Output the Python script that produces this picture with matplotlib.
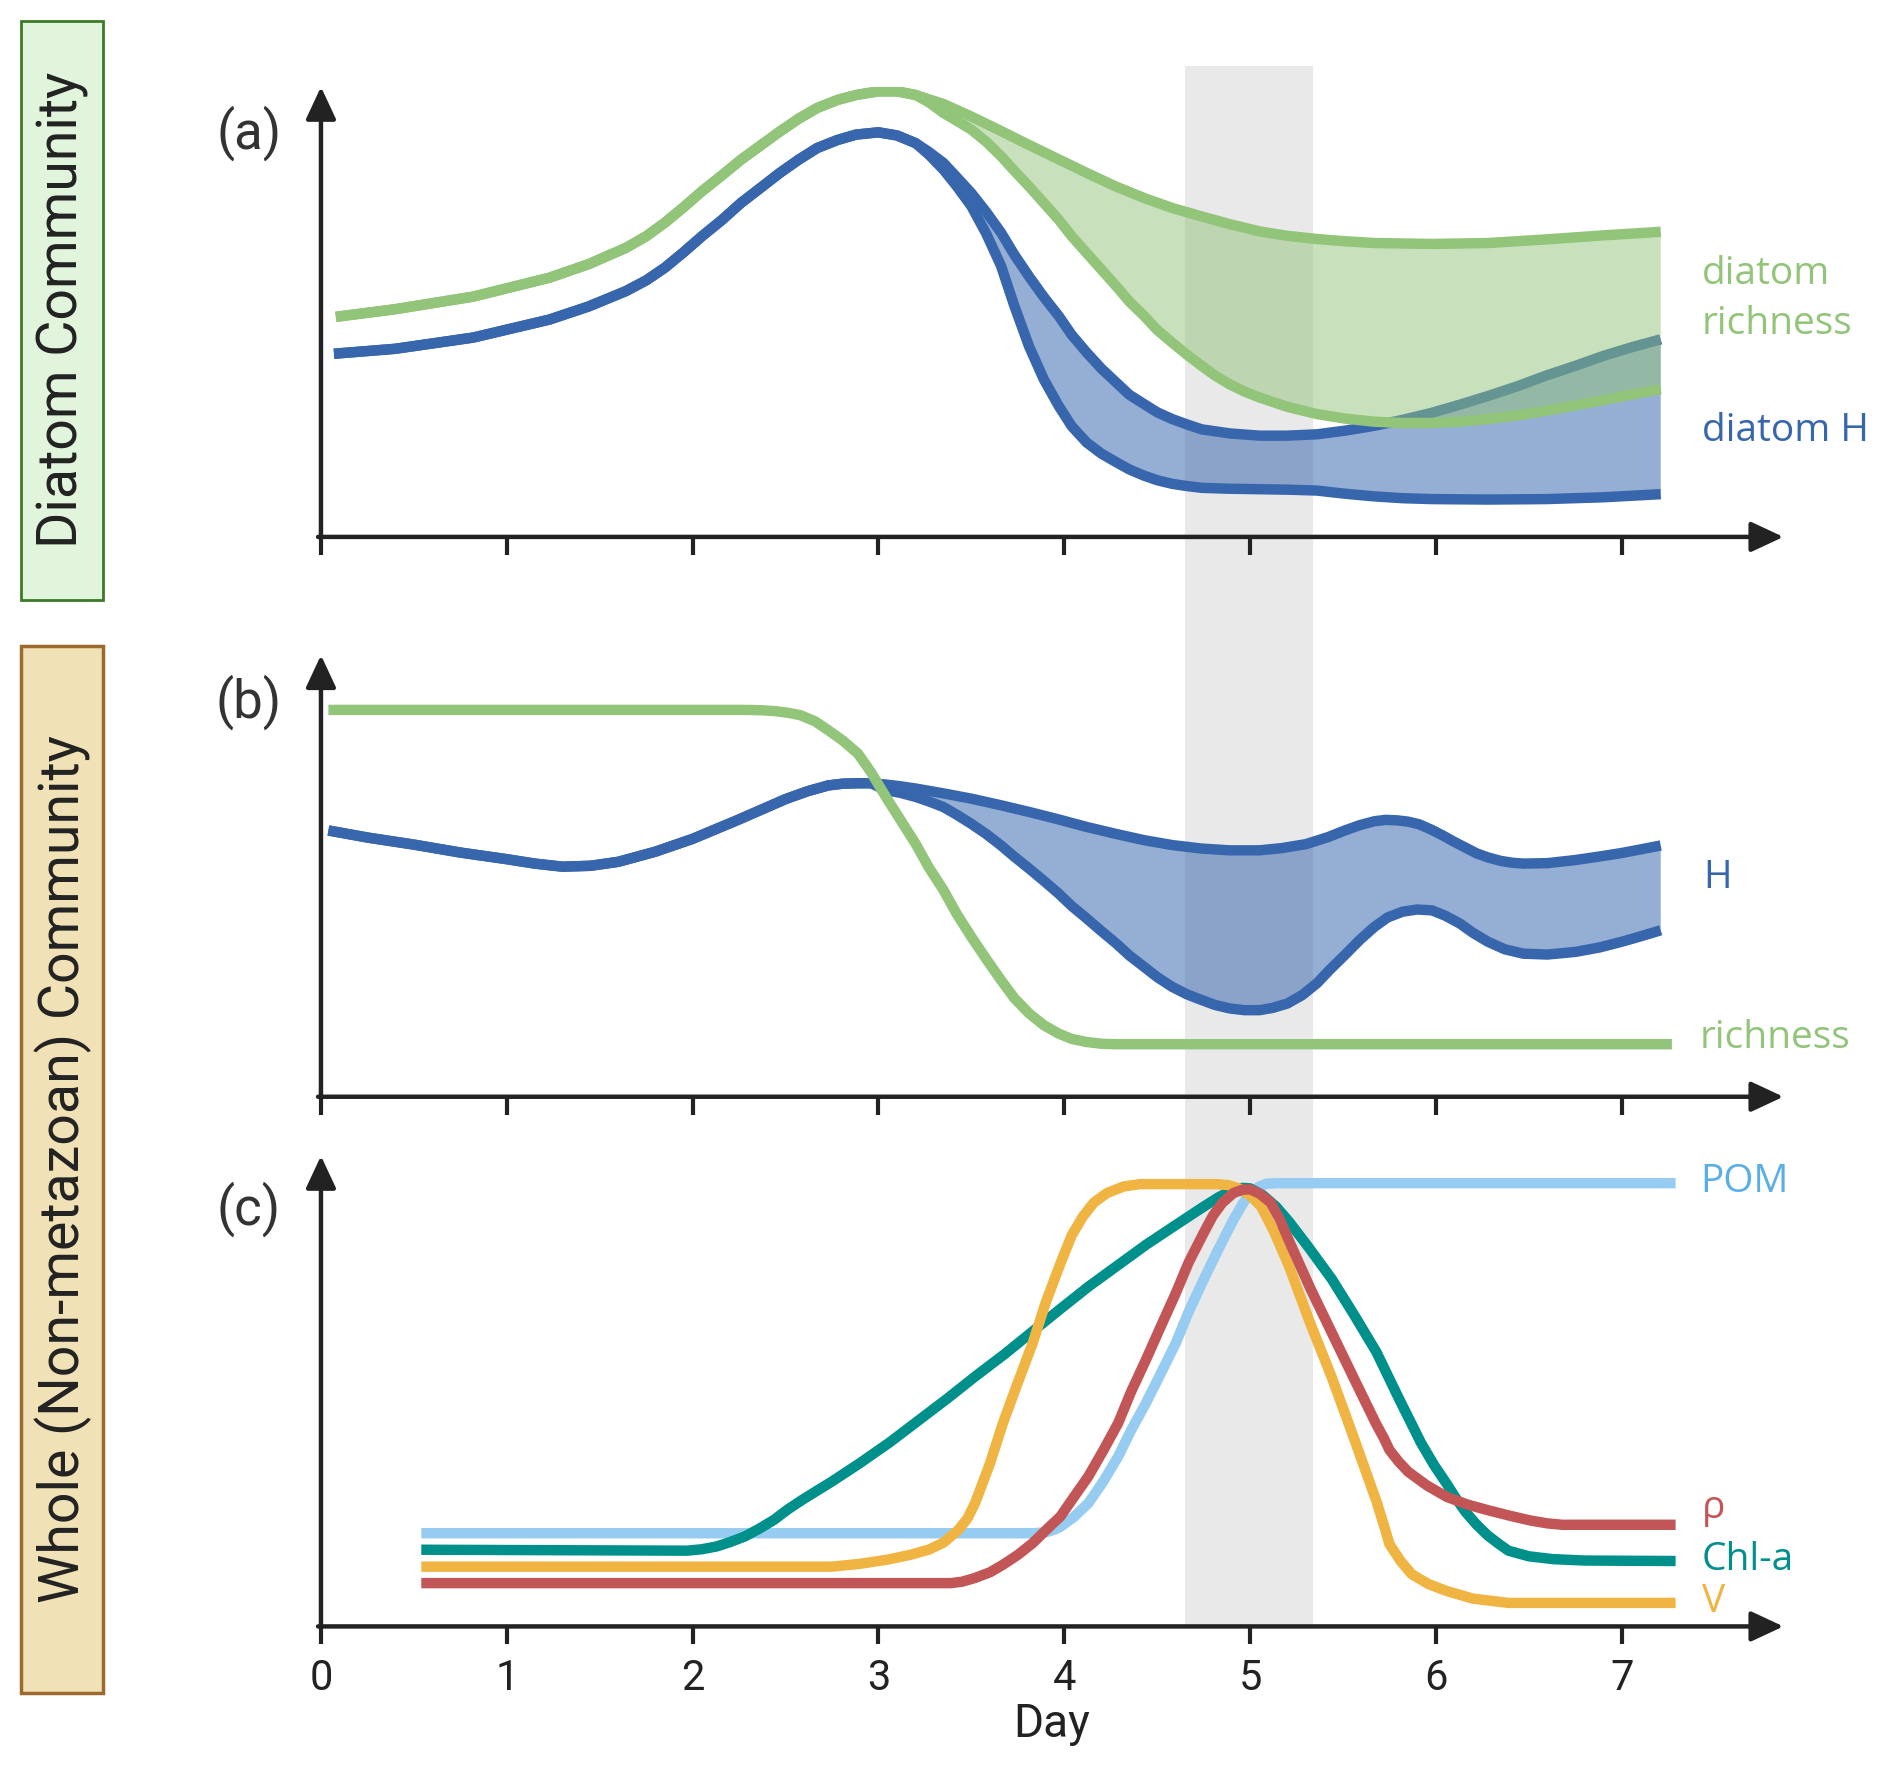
import matplotlib
matplotlib.use('Agg')
import matplotlib.pyplot as plt
from matplotlib.patches import Rectangle
import numpy as np

# ---- panel (a): diatom community ----
a_rich_hi_day = [0.08, 0.40, 0.82, 1.23, 1.44, 1.64, 1.75, 1.85, 1.95, 2.05, 2.16, 2.26, 2.37,
                 2.47, 2.57, 2.67, 2.78, 2.88, 3.00, 3.10, 3.20, 3.35, 3.50, 3.65, 3.81, 3.97,
                 4.12, 4.27, 4.43, 4.58, 4.74, 4.90, 5.05, 5.20, 5.36, 5.51, 5.67, 5.98, 6.28,
                 6.59, 6.90, 7.21]
a_rich_hi = [48.9, 50.6, 53.4, 57.6, 60.6, 64.2, 66.8, 69.8, 73.2, 76.8, 80.4, 83.8, 87.1,
             90.1, 92.9, 95.3, 97.1, 98.2, 99.0, 99.0, 98.2, 96.2, 93.4, 90.4, 87.1, 83.9,
             80.9, 78.0, 75.3, 73.1, 71.2, 69.4, 67.9, 66.9, 66.2, 65.7, 65.3, 65.1, 65.3,
             66.1, 67.0, 67.8]
a_rich_lo_day = [0.08, 0.40, 0.82, 1.23, 1.44, 1.64, 1.75, 1.85, 1.95, 2.05, 2.16, 2.26, 2.37,
                 2.47, 2.57, 2.67, 2.78, 2.88, 3.00, 3.10, 3.20, 3.27, 3.35, 3.42, 3.50, 3.58,
                 3.66, 3.73, 3.81, 3.89, 3.97, 4.04, 4.12, 4.20, 4.28, 4.35, 4.43, 4.50, 4.58,
                 4.66, 4.74, 4.81, 4.89, 4.97, 5.05, 5.20, 5.36, 5.51, 5.67, 5.82, 5.98, 6.13,
                 6.28, 6.44, 6.59, 6.75, 6.90, 7.05, 7.21]
a_rich_lo = [48.9, 50.6, 53.4, 57.6, 60.6, 64.2, 66.8, 69.8, 73.2, 76.8, 80.4, 83.8, 87.1,
             90.1, 92.9, 95.3, 97.1, 98.2, 99.0, 99.0, 98.2, 96.6, 94.2, 92.5, 90.5, 87.8,
             84.6, 81.4, 77.9, 74.2, 70.5, 66.8, 63.1, 59.4, 55.7, 52.3, 49.1, 46.0, 43.2,
             40.5, 38.0, 35.9, 33.9, 32.3, 31.0, 28.9, 27.3, 26.3, 25.6, 25.3, 25.3, 25.6,
             26.2, 27.0, 28.0, 29.2, 30.4, 31.6, 32.8]
a_h_hi_day = [0.07, 0.40, 0.82, 1.23, 1.44, 1.64, 1.75, 1.85, 1.95, 2.05, 2.16, 2.26, 2.37,
              2.47, 2.57, 2.67, 2.78, 2.88, 3.00, 3.10, 3.20, 3.27, 3.35, 3.42, 3.50, 3.58,
              3.66, 3.73, 3.81, 3.89, 3.97, 4.04, 4.12, 4.20, 4.28, 4.35, 4.43, 4.50, 4.58,
              4.66, 4.74, 4.89, 5.05, 5.20, 5.36, 5.51, 5.67, 5.82, 5.98, 6.13, 6.28, 6.44,
              6.59, 6.75, 6.90, 7.05, 7.21]
a_h_hi = [40.7, 41.8, 44.3, 48.3, 51.2, 54.6, 57.0, 59.8, 63.2, 66.8, 70.5, 74.2, 77.7,
          80.9, 83.8, 86.4, 88.2, 89.4, 89.9, 89.2, 87.5, 85.6, 83.1, 80.0, 76.4, 72.2,
          67.6, 62.8, 57.9, 53.3, 49.1, 44.9, 41.0, 37.4, 34.3, 31.6, 29.5, 27.7, 26.2,
          25.0, 23.9, 23.0, 22.5, 22.5, 22.8, 23.6, 24.7, 26.0, 27.6, 29.4, 31.3, 33.5,
          35.8, 38.0, 40.2, 42.1, 43.9]
a_h_lo_day = [0.07, 0.40, 0.82, 1.23, 1.44, 1.64, 1.75, 1.85, 1.95, 2.05, 2.16, 2.26, 2.37,
              2.47, 2.57, 2.67, 2.78, 2.88, 3.00, 3.10, 3.20, 3.27, 3.35, 3.42, 3.50, 3.58,
              3.66, 3.73, 3.81, 3.89, 3.97, 4.04, 4.12, 4.20, 4.28, 4.35, 4.43, 4.50, 4.58,
              4.66, 4.74, 4.89, 5.05, 5.20, 5.36, 5.51, 5.67, 5.82, 5.98, 6.28, 6.59, 6.90,
              7.21]
a_h_lo = [40.7, 41.8, 44.3, 48.3, 51.2, 54.6, 57.0, 59.8, 63.2, 66.8, 70.5, 74.2, 77.7,
          80.9, 83.8, 86.4, 88.2, 89.4, 89.9, 89.2, 87.5, 85.0, 81.6, 78.0, 73.5, 67.4,
          60.2, 51.5, 42.4, 35.0, 29.1, 24.6, 21.0, 18.5, 16.6, 15.0, 13.6, 12.6, 11.8,
          11.3, 10.9, 10.7, 10.6, 10.5, 10.3, 9.6, 9.0, 8.6, 8.4, 8.3, 8.4, 8.8,
          9.5]

# ---- panel (b): whole community ----
b_rich_day = [0.04, 2.30, 2.38, 2.45, 2.52, 2.58, 2.66, 2.73, 2.81, 2.89, 2.96, 3.04, 3.12,
              3.20, 3.27, 3.35, 3.42, 3.50, 3.58, 3.66, 3.73, 3.81, 3.89, 3.97, 4.04, 4.12,
              4.20, 4.28, 7.27]
b_rich = [87.6, 87.6, 87.5, 87.3, 86.9, 86.4, 85.0, 83.0, 80.6, 77.7, 73.5, 67.9, 62.6,
          57.3, 52.0, 46.8, 41.5, 36.2, 31.2, 26.4, 22.4, 18.9, 16.2, 14.3, 13.1, 12.4,
          12.0, 11.9, 11.9]
b_h_hi_day = [0.04, 0.25, 0.50, 0.75, 1.00, 1.15, 1.30, 1.45, 1.60, 1.80, 2.00, 2.25, 2.50,
              2.62, 2.73, 2.81, 2.89, 2.96, 3.04, 3.12, 3.20, 3.35, 3.50, 3.66, 3.81, 3.97,
              4.12, 4.28, 4.43, 4.58, 4.74, 4.89, 5.05, 5.17, 5.30, 5.42, 5.51, 5.59, 5.67,
              5.73, 5.79, 5.85, 5.91, 5.98, 6.04, 6.10, 6.16, 6.22, 6.28, 6.35, 6.41, 6.47,
              6.60, 6.75, 6.88, 7.00, 7.10, 7.21]
b_h_hi = [60.3, 58.7, 57.1, 55.3, 53.8, 52.8, 52.1, 52.3, 53.2, 55.5, 58.4, 62.8, 67.4,
          69.2, 70.5, 70.9, 71.0, 71.0, 70.7, 70.3, 69.8, 68.7, 67.5, 66.0, 64.5, 62.8,
          61.1, 59.5, 58.1, 57.0, 56.2, 55.8, 55.8, 56.3, 57.2, 58.8, 60.3, 61.5, 62.4,
          62.7, 62.6, 62.3, 61.7, 60.4, 59.1, 57.7, 56.4, 55.1, 54.2, 53.4, 53.0, 52.8,
          52.9, 53.6, 54.4, 55.2, 56.0, 56.9]
b_h_lo_day = [0.04, 0.25, 0.50, 0.75, 1.00, 1.15, 1.30, 1.45, 1.60, 1.80, 2.00, 2.25, 2.50,
              2.62, 2.73, 2.81, 2.89, 2.96, 3.04, 3.12, 3.20, 3.27, 3.35, 3.42, 3.50, 3.58,
              3.66, 3.73, 3.81, 3.89, 3.97, 4.04, 4.12, 4.20, 4.28, 4.35, 4.43, 4.50, 4.58,
              4.66, 4.74, 4.81, 4.89, 4.97, 5.05, 5.12, 5.20, 5.28, 5.36, 5.43, 5.51, 5.59,
              5.67, 5.74, 5.82, 5.90, 5.98, 6.05, 6.13, 6.20, 6.28, 6.37, 6.47, 6.60, 6.75,
              6.88, 7.00, 7.10, 7.21]
b_h_lo = [60.3, 58.7, 57.1, 55.3, 53.8, 52.8, 52.1, 52.3, 53.2, 55.5, 58.4, 62.8, 67.4,
          69.2, 70.5, 70.9, 71.0, 71.0, 69.4, 68.8, 67.9, 66.9, 65.6, 63.9, 61.8, 59.5,
          56.9, 54.4, 51.7, 48.9, 46.0, 43.2, 40.4, 37.5, 34.7, 32.0, 29.4, 27.1, 24.9,
          23.2, 21.9, 20.8, 20.0, 19.6, 19.6, 20.1, 21.1, 23.0, 25.7, 28.8, 32.1, 35.5,
          38.5, 40.6, 41.9, 42.4, 42.2, 41.0, 39.2, 37.1, 35.1, 33.4, 32.4, 32.2, 32.8,
          33.8, 35.1, 36.3, 37.7]

# ---- panel (c): bulk measurements ----
pom_day = [0.54, 3.83, 3.90, 3.95, 3.98, 4.05, 4.13, 4.21, 4.29, 4.36, 4.44, 4.52, 4.60,
           4.67, 4.75, 4.83, 4.91, 4.96, 5.00, 5.05, 5.09, 5.15, 7.29]
pom = [19.8, 19.8, 20.0, 20.6, 21.2, 23.2, 26.2, 30.8, 36.1, 41.7, 47.5, 53.8, 60.2,
       66.9, 73.7, 80.2, 86.4, 89.8, 92.1, 93.5, 94.1, 94.2, 94.2]
chl_day = [0.54, 1.97, 2.05, 2.13, 2.20, 2.28, 2.36, 2.44, 2.51, 2.59, 2.75, 2.90, 3.06,
           3.21, 3.37, 3.52, 3.68, 3.83, 3.98, 4.13, 4.29, 4.44, 4.60, 4.75, 4.83, 4.91,
           4.96, 5.00, 5.07, 5.14, 5.21, 5.32, 5.44, 5.56, 5.68, 5.80, 5.92, 5.99, 6.06,
           6.11, 6.16, 6.22, 6.28, 6.34, 6.39, 6.50, 6.63, 6.80, 7.29]
chl = [16.3, 16.1, 16.4, 17.0, 17.9, 19.1, 20.8, 22.7, 24.8, 26.9, 30.8, 34.7, 39.1,
       43.6, 48.4, 53.1, 57.9, 62.7, 67.5, 72.2, 76.8, 81.1, 85.3, 89.2, 91.2, 92.8,
       93.2, 93.1, 91.6, 89.2, 86.0, 80.3, 73.8, 66.2, 58.3, 48.5, 39.0, 34.3, 30.2,
       27.1, 24.3, 21.6, 19.3, 17.5, 16.1, 14.9, 14.3, 14.0, 13.9]
rho_day = [0.54, 3.39, 3.45, 3.52, 3.60, 3.67, 3.75, 3.83, 3.90, 3.98, 4.05, 4.13, 4.21,
           4.29, 4.36, 4.44, 4.52, 4.60, 4.67, 4.75, 4.80, 4.85, 4.91, 4.96, 5.00, 5.05,
           5.11, 5.16, 5.21, 5.32, 5.44, 5.56, 5.68, 5.72, 5.75, 5.80, 5.85, 5.95, 6.06,
           6.17, 6.28, 6.40, 6.51, 6.60, 6.68, 7.29]
rho = [9.2, 9.2, 9.5, 10.3, 11.5, 13.1, 15.2, 17.7, 20.4, 23.4, 27.4, 31.9, 37.4,
       43.2, 49.9, 56.7, 63.8, 70.8, 77.4, 83.6, 87.3, 90.0, 92.1, 92.8, 92.9, 92.0,
       90.1, 86.5, 81.9, 72.2, 62.4, 52.6, 42.9, 40.0, 37.5, 35.0, 32.9, 30.0, 27.5,
       25.9, 24.7, 23.5, 22.5, 21.9, 21.6, 21.6]
v_day = [0.54, 2.75, 2.90, 3.05, 3.17, 3.27, 3.35, 3.43, 3.48, 3.52, 3.60, 3.67, 3.75,
         3.83, 3.90, 3.98, 4.04, 4.10, 4.16, 4.23, 4.32, 4.41, 4.82, 4.88, 4.94, 5.00,
         5.06, 5.13, 5.21, 5.32, 5.44, 5.56, 5.68, 5.72, 5.75, 5.81, 5.87, 5.96, 6.06,
         6.20, 6.39, 7.29]
v = [12.7, 12.7, 13.3, 14.2, 15.2, 16.3, 17.8, 20.5, 23.0, 26.2, 34.6, 43.2, 51.8,
     60.2, 68.8, 77.2, 83.1, 87.1, 90.1, 92.1, 93.5, 94.0, 94.0, 93.8, 93.1, 91.6,
     89.2, 83.8, 76.5, 64.8, 52.9, 39.9, 26.6, 21.5, 17.5, 13.9, 11.1, 9.0, 7.5,
     5.9, 5.0, 5.0]

days = [0, 1, 2, 3, 4, 5, 6, 7]
band_days = (4.65, 5.34)

GREEN = '#92c47a'
BLUE = '#3866ad'
LBLUE = '#96cbf2'
TEAL = '#00908c'
RED = '#c25656'
ORANGE = '#f0b443'
AXC = '#222222'
LW = 7.5

W, H = 1568.0, 1467.0
def fx(px):
    return px / W
def fy(py):
    return 1 - py / H

XMAX = (1478 - 266) / 154.0

fig = plt.figure(figsize=(18.92, 17.7), dpi=100)

# grey band behind all panels
bg = fig.add_axes([fx(266), fy(1348), fx(1478) - fx(266), fy(55) - fy(1348)], zorder=0)
bg.set_xlim(0, XMAX)
bg.set_ylim(0, 1)
bg.axvspan(band_days[0], band_days[1], color='#e9e9e9', lw=0)
bg.axis('off')


def make_axes(top, bottom):
    ax = fig.add_axes([fx(266), fy(bottom), fx(1478) - fx(266), fy(top) - fy(bottom)], zorder=1)
    ax.patch.set_alpha(0)
    ax.set_xlim(0, XMAX)
    ax.set_ylim(0, 100)
    for s in ax.spines.values():
        s.set_visible(False)
    ax.set_yticks([])
    ax.set_xticks(days)
    ax.tick_params(axis='x', length=13, width=3, color=AXC, direction='out', labelbottom=False)
    head = dict(arrowstyle='-|>,head_length=0.9,head_width=0.42', lw=3.2, color=AXC,
                mutation_scale=22, shrinkA=0, shrinkB=0)
    ax.annotate('', xy=(1, 0), xytext=(-0.002, 0), xycoords='axes fraction', arrowprops=head)
    ax.annotate('', xy=(0, 1), xytext=(0, -0.004), xycoords='axes fraction', arrowprops=head)
    return ax


def band(ax, xu, yu, xl, yl, start, color, alpha, z):
    xu, yu, xl, yl = map(np.asarray, (xu, yu, xl, yl))
    mu = xu >= start
    ml = xl >= start
    ax.fill(np.concatenate([xu[mu], xl[ml][::-1]]), np.concatenate([yu[mu], yl[ml][::-1]]),
            color=color, alpha=alpha, lw=0, zorder=z)


def line(ax, x, y, color, z):
    ax.plot(x, y, color=color, lw=LW, solid_capstyle='butt', solid_joinstyle='round', zorder=z)


lab = dict(family='Open Sans', fontsize=28, va='center', ha='left')

# (a)
ax1 = make_axes(72, 445)
band(ax1, a_h_hi_day, a_h_hi, a_h_lo_day, a_h_lo, 3.20, BLUE, 0.53, 1)
line(ax1, a_h_hi_day, a_h_hi, BLUE, 2)
line(ax1, a_h_lo_day, a_h_lo, BLUE, 2)
band(ax1, a_rich_hi_day, a_rich_hi, a_rich_lo_day, a_rich_lo, 3.20, GREEN, 0.5, 3)
line(ax1, a_rich_hi_day, a_rich_hi, GREEN, 4)
line(ax1, a_rich_lo_day, a_rich_lo, GREEN, 4)
ax1.text(7.43, 52.8, 'diatom\nrichness', color=GREEN, linespacing=1.4, **lab)
ax1.text(7.43, 23.6, 'diatom H', color=BLUE, **lab)

# (b)
ax2 = make_axes(543, 909)
band(ax2, b_h_hi_day, b_h_hi, b_h_lo_day, b_h_lo, 2.96, BLUE, 0.53, 1)
line(ax2, b_h_hi_day, b_h_hi, BLUE, 2)
line(ax2, b_h_lo_day, b_h_lo, BLUE, 2)
line(ax2, b_rich_day, b_rich, GREEN, 4)
ax2.text(7.44, 49.5, 'H', color=BLUE, **lab)
ax2.text(7.42, 13.4, 'richness', color=GREEN, **lab)

# (c)
ax3 = make_axes(958, 1348)
line(ax3, pom_day, pom, LBLUE, 2)
line(ax3, chl_day, chl, TEAL, 3)
line(ax3, v_day, v, ORANGE, 4)
line(ax3, rho_day, rho, RED, 5)
ax3.text(7.42, 94.4, 'POM', color='#5aaee6', **lab)
ax3.text(7.43, 25.1, 'ρ', color=RED, **lab)
ax3.text(7.43, 14.1, 'Chl-a', color=TEAL, **lab)
ax3.text(7.43, 5.1, 'V', color=ORANGE, **lab)
ax3.tick_params(axis='x', labelbottom=True, pad=10, labelsize=30, labelcolor=AXC)
for t in ax3.get_xticklabels():
    t.set_family('Roboto')
ax3.set_xlabel('Day', family='Roboto', fontsize=33, color=AXC, labelpad=2)

# panel letters
for txt, py in [('(a)', 110), ('(b)', 582), ('(c)', 1002)]:
    fig.text(fx(206), fy(py), txt, family='Roboto', fontsize=38, color='#333333',
             ha='center', va='center')

# side boxes
fig.patches.append(Rectangle((fx(17), fy(497)), fx(85) - fx(17), fy(17) - fy(497),
                             transform=fig.transFigure, facecolor='#e0f5dc',
                             edgecolor='#3d7a28', lw=2))
fig.patches.append(Rectangle((fx(17), fy(1403)), fx(85) - fx(17), fy(535) - fy(1403),
                             transform=fig.transFigure, facecolor='#f0e2b6',
                             edgecolor='#9b6a2c', lw=2.5))
fig.text(fx(52), fy(257), 'Diatom Community', family='Roboto', fontsize=40, color=AXC,
         rotation=90, ha='center', va='center')
fig.text(fx(52), fy(969), 'Whole (Non-metazoan) Community', family='Roboto', fontsize=40,
         color=AXC, rotation=90, ha='center', va='center')

fig.savefig('out.png', dpi=100, facecolor='white')
